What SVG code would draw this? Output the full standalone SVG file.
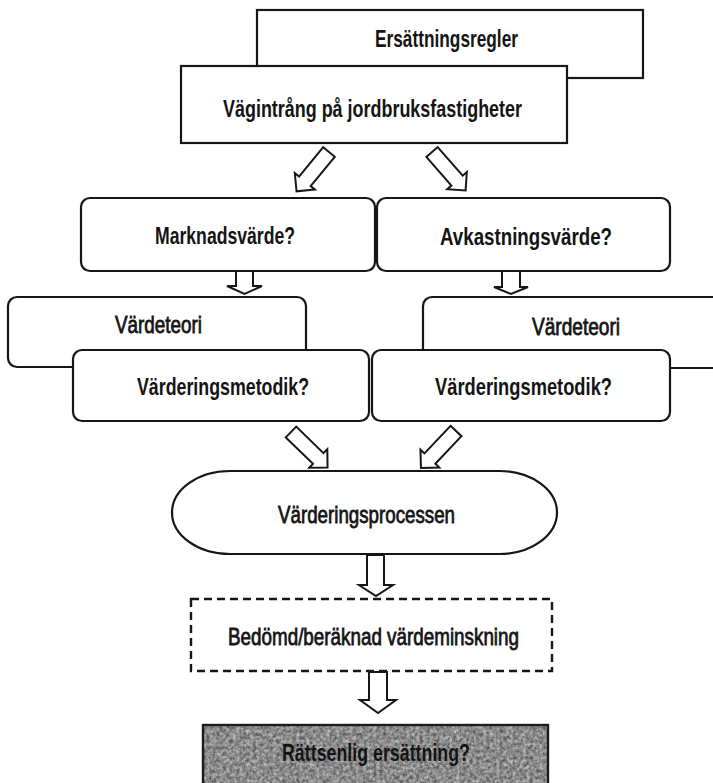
<svg xmlns="http://www.w3.org/2000/svg" width="713" height="783" viewBox="0 0 713 783">
  <style>
    .box { fill: #ffffff; stroke: #161616; stroke-width: 2.2; }
    .dash { fill: #ffffff; stroke: #161616; stroke-width: 2.4; stroke-dasharray: 8 5; }
    .arrow { fill: #ffffff; stroke: #161616; stroke-width: 2; stroke-linejoin: miter; }
    .lbl { font-family: "Liberation Sans", Arial, sans-serif; font-size: 24px; fill: #141414; }
    .b { font-weight: bold; }
    .m { font-weight: normal; stroke: #141414; stroke-width: 0.8; }
  </style>
  <defs>
    <!-- hollow block arrow, tail at origin, pointing down -->
    <polygon id="blk" points="-7.5,0 7.5,0 7.5,38 13,38 0,51 -13,38 -7.5,38"/>
    <filter id="grain" x="0" y="0" width="1" height="1" color-interpolation-filters="sRGB">
      <feTurbulence type="fractalNoise" baseFrequency="0.3" numOctaves="4" seed="11" result="noise"/>
      <feColorMatrix in="noise" type="saturate" values="0" result="grey"/>
      <feComponentTransfer in="grey" result="tone">
        <feFuncR type="linear" slope="0.85" intercept="0.12"/>
        <feFuncG type="linear" slope="0.85" intercept="0.12"/>
        <feFuncB type="linear" slope="0.85" intercept="0.12"/>
        <feFuncA type="linear" slope="0" intercept="1"/>
      </feComponentTransfer>
      <feComposite in="tone" in2="SourceGraphic" operator="in"/>
    </filter>
  </defs>

  <!-- top pair -->
  <g id="ersattningsregler">
    <rect class="box" x="257" y="10" width="386" height="68"/>
    <text class="lbl b" x="375" y="47" textLength="143" lengthAdjust="spacingAndGlyphs">Ersättningsregler</text>
  </g>
  <g id="vagintrang">
    <rect class="box" x="181" y="66" width="386" height="77"/>
    <text class="lbl b" x="223" y="117" textLength="299" lengthAdjust="spacingAndGlyphs">Vägintrång på jordbruksfastigheter</text>
  </g>

  <!-- value questions -->
  <g id="marknadsvarde">
    <rect class="box" x="81" y="198" width="294" height="73" rx="9"/>
    <text class="lbl b" x="155" y="244" textLength="140" lengthAdjust="spacingAndGlyphs">Marknadsvärde?</text>
  </g>
  <g id="avkastningsvarde">
    <rect class="box" x="377" y="198" width="293" height="73" rx="9"/>
    <text class="lbl b" x="440" y="245" textLength="172" lengthAdjust="spacingAndGlyphs">Avkastningsvärde?</text>
  </g>

  <!-- value theory, behind the method boxes -->
  <g id="vardeteori-vanster">
    <rect class="box" x="8" y="297" width="298" height="70" rx="9"/>
    <text class="lbl m" x="115" y="333" textLength="87" lengthAdjust="spacingAndGlyphs">Värdeteori</text>
  </g>
  <g id="vardeteori-hoger">
    <rect class="box" x="423" y="297" width="320" height="71" rx="9"/>
    <text class="lbl m" x="532" y="335" textLength="88" lengthAdjust="spacingAndGlyphs">Värdeteori</text>
  </g>

  <g id="metodik-vanster">
    <rect class="box" x="73" y="350" width="296" height="71" rx="9"/>
    <text class="lbl b" x="137" y="395" textLength="172" lengthAdjust="spacingAndGlyphs">Värderingsmetodik?</text>
  </g>
  <g id="metodik-hoger">
    <rect class="box" x="372" y="350" width="298" height="71" rx="9"/>
    <text class="lbl b" x="435" y="395" textLength="177" lengthAdjust="spacingAndGlyphs">Värderingsmetodik?</text>
  </g>

  <g id="varderingsprocessen">
    <rect class="box" x="172" y="471" width="385" height="83" rx="58" ry="41.5"/>
    <text class="lbl m" x="278" y="523" textLength="177" lengthAdjust="spacingAndGlyphs">Värderingsprocessen</text>
  </g>

  <g id="vardeminskning">
    <rect class="dash" x="191" y="599" width="361" height="72"/>
    <text class="lbl m" x="228" y="645" textLength="291" lengthAdjust="spacingAndGlyphs">Bedömd/beräknad värdeminskning</text>
  </g>

  <g id="rattsenlig-ersattning">
    <rect x="203" y="725" width="345" height="70" fill="#999999" filter="url(#grain)"/>
    <rect x="203" y="725" width="345" height="70" fill="none" stroke="#1c1c1c" stroke-width="2.4"/>
    <text class="lbl b" x="282" y="761" textLength="188" lengthAdjust="spacingAndGlyphs">Rättsenlig ersättning?</text>
  </g>

  <!-- connectors -->
  <g id="connectors">
    <use href="#blk" class="arrow" transform="translate(329,152) rotate(39.5)"/>
    <use href="#blk" class="arrow" transform="translate(432,152) rotate(-41.2)"/>
    <polygon class="arrow" points="236,271 253,271 253,286 262,286 244.5,294 227,286 236,286"/>
    <polygon class="arrow" points="502,271 520,271 520,287 528,287 511,294 494,287 502,287"/>
    <use href="#blk" class="arrow" transform="translate(291,432) rotate(-45.8)"/>
    <use href="#blk" class="arrow" transform="translate(456,431) rotate(43.4)"/>
    <polygon class="arrow" points="367,555 384,555 384,585 393,585 376,596 359,585 367,585"/>
    <polygon class="arrow" points="369,672 387,672 387,700 396,700 378,713 360,700 369,700"/>
  </g>
</svg>
